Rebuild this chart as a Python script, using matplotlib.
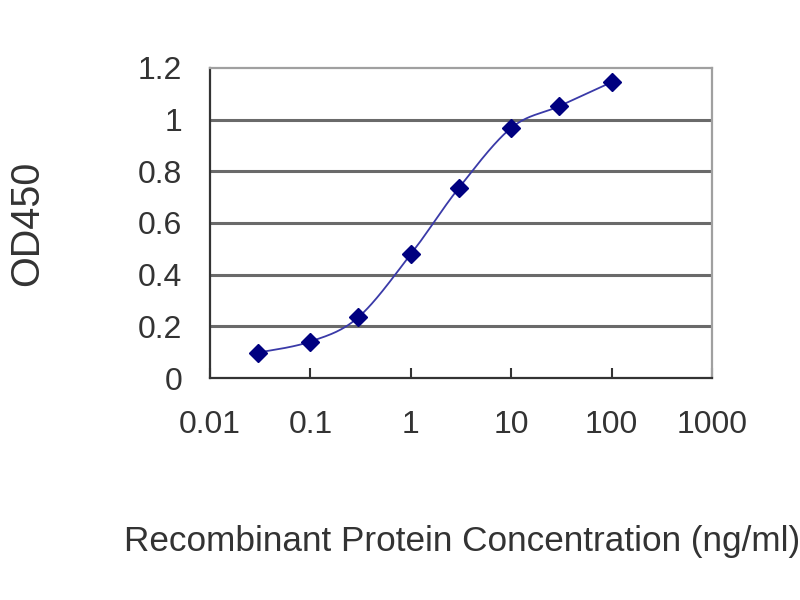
import numpy as np
import matplotlib
matplotlib.use("Agg")
import matplotlib.pyplot as plt

# Data
concentration = [0.03, 0.1, 0.3, 1, 3, 10, 30, 100]
od450 = [0.098, 0.141, 0.235, 0.479, 0.735, 0.968, 1.052, 1.145]
x_ticks = [0.01, 0.1, 1, 10, 100, 1000]
x_tick_labels = ["0.01", "0.1", "1", "10", "100", "1000"]
y_ticks = [0, 0.2, 0.4, 0.6, 0.8, 1.0, 1.2]
y_tick_labels = ["0", "0.2", "0.4", "0.6", "0.8", "1", "1.2"]

fam = ["Liberation Sans", "DejaVu Sans"]
plt.rcParams["font.family"] = fam

fig = plt.figure(figsize=(8, 6), dpi=100)
ax = fig.add_axes([0.2625, 0.37, 0.6275, 0.5167])

ax.set_xscale("log")
ax.set_xlim(0.01, 1000)
ax.set_ylim(0, 1.2)

# Smoothed line (Excel-like Bezier smoothing in screen-proportional space)
u = np.log10(np.array(concentration, dtype=float)) * 100.0
v = np.array(od450, dtype=float) * 258.0
pts = np.column_stack([u, v])
n = len(pts)
curve = []
for i in range(n - 1):
    p0 = pts[i - 1] if i > 0 else pts[i]
    p1 = pts[i]
    p2 = pts[i + 1]
    p3 = pts[i + 2] if i + 2 < n else pts[i + 1]
    c1 = p1 + (p2 - p0) / 6.0
    c2 = p2 - (p3 - p1) / 6.0
    t = np.linspace(0, 1, 40)[:, None]
    seg = ((1 - t) ** 3) * p1 + 3 * ((1 - t) ** 2) * t * c1 + 3 * (1 - t) * t ** 2 * c2 + t ** 3 * p2
    curve.append(seg if i == 0 else seg[1:])
curve = np.vstack(curve)
ax.plot(10 ** (curve[:, 0] / 100.0), curve[:, 1] / 258.0, color="#3a3aa8", lw=1.3, zorder=3)
ax.plot(concentration, od450, linestyle="none", marker="D", markersize=9.5,
        color="#000080", markeredgecolor="#000080", zorder=4)

# Grid
for yv in y_ticks[1:-1]:
    ax.axhline(yv, color="#6a6a6a", lw=2.2, zorder=1)

ax.set_xticks(x_ticks)
ax.set_xticklabels(x_tick_labels)
ax.xaxis.set_minor_locator(matplotlib.ticker.NullLocator())
ax.set_yticks(y_ticks)
ax.set_yticklabels(y_tick_labels)

ax.tick_params(axis="x", direction="in", length=7, width=1.5, color="#333333",
               labelsize=23, pad=23, labelcolor="#333333")
ax.tick_params(axis="y", length=0, labelsize=23, pad=20, labelcolor="#333333")

for s in ["left", "bottom"]:
    ax.spines[s].set_color("#333333")
    ax.spines[s].set_linewidth(1.6)
for s in ["top", "right"]:
    ax.spines[s].set_color("#a0a0a0")
    ax.spines[s].set_linewidth(1.6)

fig.text(0.034, 0.628, "OD450", rotation=90, ha="center", va="center",
         fontsize=28.5, color="#333333")
fig.text(0.578, 0.097, "Recombinant Protein Concentration (ng/ml)", ha="center",
         va="center", fontsize=25.3, color="#333333")

fig.savefig("out.png", dpi=100, facecolor="white")
